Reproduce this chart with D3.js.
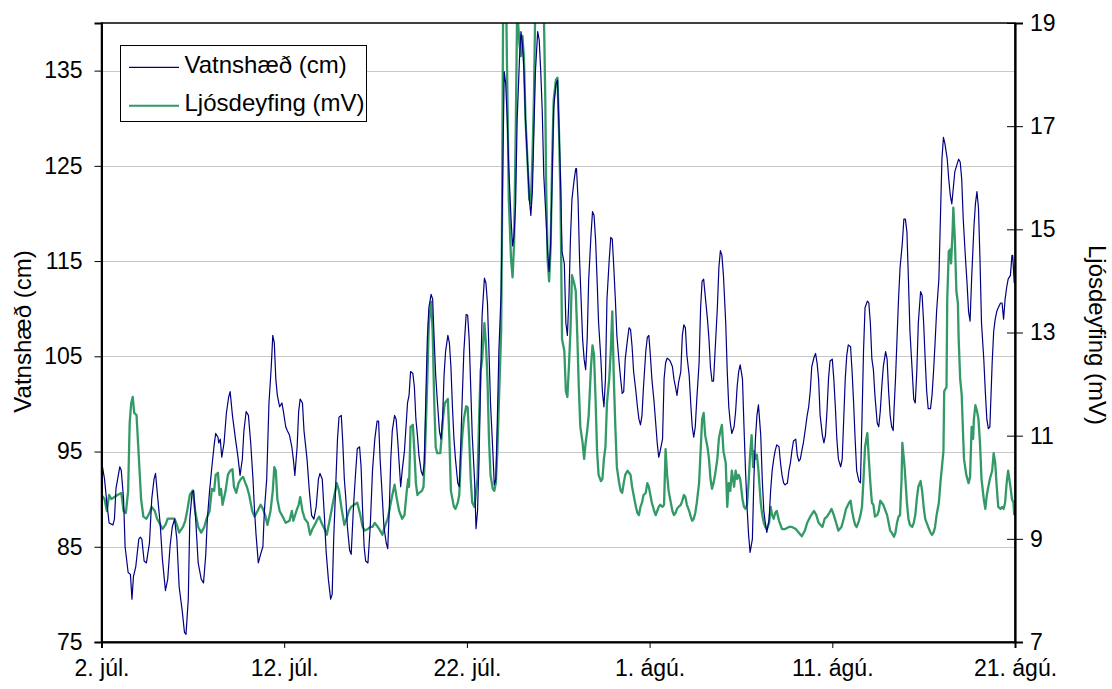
<!DOCTYPE html>
<html>
<head>
<meta charset="utf-8">
<script src="https://cdn.jsdelivr.net/npm/d3@7"></script>
<style>
  html, body { margin: 0; padding: 0; background: #fff; }
  svg text { font-family: Arial, "Liberation Sans", sans-serif; fill: #000; }
</style>
</head>
<body>
<svg id="chart" width="1112" height="689"></svg>
<script>
// Time axis: hours since 2 July 00:00; ticks every 10 days
const dayTicks = [0, 10, 20, 30, 40, 50];
const dayLabels = ["2. júl.", "12. júl.", "22. júl.", "1. ágú.", "11. ágú.", "21. ágú."];
const levelTicks = [75, 85, 95, 105, 115, 125, 135];
const turbTicks = [7, 9, 11, 13, 15, 17, 19];

// Vatnshæð (cm): [hour, value]
const waterLevel = [
  [0,94.0],[4,92.1],[7,89.6],[10,87.5],[15,87.3],[17,87.9],[19,91.1],[24,93.4],[26,93.0],[29,90.0],
  [31,85.0],[35,82.3],[38,82.1],[40,79.5],[42,81.9],[45,82.9],[49,85.8],[51,86.0],[53,85.8],[56,83.5],
  [59,83.3],[63,85.4],[66,90.0],[69,92.1],[71,92.7],[74,90.0],[77,87.5],[80,83.7],[84,80.4],[87,81.6],
  [90,85.0],[93,87.1],[96,87.9],[99,85.8],[102,80.8],[106,78.3],[109,76.0],[111,75.8],[114,79.5],[116,87.9],
  [119,90.7],[121,90.9],[124,87.5],[127,83.3],[131,81.6],[134,81.2],[137,84.2],[139,87.9],[142,90.9],[145,93.4],
  [148,95.7],[150,96.9],[153,96.5],[154,95.9],[156,96.3],[158,94.4],[161,95.9],[164,99.0],[167,100.7],[169,101.3],
  [172,98.8],[176,96.3],[179,94.6],[182,92.5],[185,94.2],[187,97.1],[190,99.2],[193,98.8],[196,95.9],[199,92.1],
  [201,88.8],[203,86.3],[206,83.3],[209,84.2],[212,85.0],[214,88.8],[217,92.1],[220,100.1],[223,103.9],[225,107.2],
  [227,106.4],[229,102.6],[231,100.9],[234,99.7],[237,100.1],[239,99.2],[242,97.6],[244,97.2],[247,96.7],[250,95.5],
  [252,94.2],[254,92.5],[257,95.5],[259,99.2],[261,100.5],[264,100.1],[266,97.2],[270,94.2],[273,90.9],[276,88.3],
  [279,87.9],[282,89.2],[285,92.1],[287,92.7],[290,92.1],[293,87.9],[295,84.6],[298,81.6],[301,79.5],[303,80.0],
  [305,85.8],[308,92.1],[310,96.3],[312,98.6],[315,98.8],[317,95.9],[319,92.1],[321,90.0],[323,87.1],[326,84.6],
  [328,84.2],[331,89.2],[334,93.0],[336,95.3],[339,95.5],[341,93.4],[343,88.8],[345,85.0],[347,83.5],[350,83.3],
  [353,87.1],[356,93.0],[359,96.3],[362,98.2],[364,98.2],[366,94.2],[369,90.0],[371,87.1],[374,85.4],[376,84.8],
  [378,88.8],[380,94.2],[382,97.2],[385,98.8],[387,98.4],[389,96.3],[391,93.8],[393,91.3],[395,93.0],[398,95.1],
  [400,97.6],[402,100.1],[404,100.9],[406,103.4],[409,103.2],[411,101.8],[413,98.4],[415,96.7],[417,94.6],[420,92.9],
  [422,92.5],[424,93.8],[426,100.5],[428,106.8],[430,110.1],[433,111.5],[435,111.0],[437,106.8],[439,103.0],[441,100.5],
  [444,97.1],[446,96.3],[448,98.4],[450,103.0],[452,105.5],[455,107.2],[457,106.4],[459,103.9],[461,99.7],[463,96.3],
  [465,94.2],[468,91.7],[470,91.3],[472,95.9],[474,100.9],[476,105.5],[479,109.4],[481,109.3],[483,106.8],[485,101.8],
  [487,96.7],[490,92.1],[492,86.9],[494,88.8],[496,94.2],[498,102.6],[500,109.3],[503,113.2],[505,112.7],[507,110.6],
  [509,105.5],[511,100.1],[514,95.1],[516,91.5],[518,92.1],[520,98.4],[522,105.5],[525,111.8],[527,123.6],[529,134.9],
  [531,133.6],[533,129.8],[535,124.8],[538,119.4],[540,116.6],[542,117.7],[544,121.0],[546,129.8],[549,136.1],[551,139.1],
  [553,137.8],[555,134.9],[557,129.8],[560,124.8],[562,121.5],[564,119.8],[566,122.3],[568,128.6],[570,134.9],[573,139.1],
  [575,138.2],[577,134.9],[579,130.7],[581,124.0],[584,119.4],[586,116.0],[588,113.9],[590,116.9],[592,123.6],[594,131.1],
  [597,133.6],[599,134.0],[601,129.0],[603,123.6],[605,116.0],[608,114.7],[610,108.5],[612,107.2],[614,111.0],[616,117.3],
  [618,121.5],[621,123.6],[623,124.7],[624,124.7],[626,121.5],[628,115.2],[630,111.0],[632,106.8],[634,104.7],[636,103.6],
  [638,106.8],[640,113.1],[643,117.7],[645,120.2],[647,119.8],[649,117.3],[651,113.1],[653,108.5],[656,104.7],[658,101.3],
  [660,99.7],[662,102.6],[664,111.0],[667,115.2],[669,117.5],[671,117.3],[673,114.3],[675,111.0],[677,107.2],[680,104.3],
  [682,102.6],[684,101.1],[686,101.3],[688,104.7],[691,106.8],[693,108.0],[695,107.8],[697,106.0],[699,103.4],[702,101.3],
  [704,99.7],[706,98.4],[708,97.8],[710,98.8],[712,101.8],[715,105.5],[717,107.0],[719,107.2],[721,105.1],[723,102.6],
  [726,100.1],[728,98.0],[730,95.9],[732,94.4],[734,95.1],[737,96.3],[739,102.6],[741,104.3],[743,104.8],[745,104.7],
  [747,104.5],[750,103.9],[752,102.6],[754,101.8],[756,100.9],[758,102.2],[761,103.4],[763,107.2],[765,108.3],[767,108.0],
  [769,105.1],[772,103.0],[774,100.1],[776,97.6],[778,96.5],[780,97.6],[782,100.5],[785,104.3],[787,110.1],[789,112.9],
  [791,113.1],[793,111.4],[796,108.9],[798,106.8],[800,103.8],[802,102.4],[804,102.4],[806,105.5],[809,110.1],[811,114.3],
  [813,116.1],[815,115.6],[817,113.5],[820,108.5],[822,103.4],[824,99.7],[826,98.0],[828,96.9],[831,97.6],[833,99.2],
  [835,101.8],[837,103.4],[839,104.1],[842,102.6],[844,97.6],[846,93.0],[848,89.2],[850,86.3],[852,84.4],[855,85.8],
  [857,92.1],[859,96.3],[861,98.8],[863,99.9],[866,96.7],[868,92.1],[870,88.8],[872,87.5],[874,86.5],[877,87.9],
  [879,90.9],[881,93.0],[883,94.2],[885,95.1],[887,95.7],[890,95.5],[892,93.8],[894,92.5],[896,91.7],[898,91.5],
  [901,91.7],[903,93.0],[905,93.8],[907,95.1],[909,96.1],[912,96.3],[914,94.6],[916,94.0],[918,94.2],[920,95.1],
  [922,95.9],[925,97.6],[927,98.8],[929,99.7],[931,101.3],[933,103.9],[936,104.9],[938,105.3],[940,104.3],[942,102.6],
  [944,98.8],[947,96.7],[949,95.9],[951,96.7],[953,99.2],[955,102.6],[957,104.5],[960,104.7],[962,102.6],[964,99.7],
  [966,96.3],[968,94.2],[971,93.4],[973,94.2],[975,98.4],[977,102.6],[979,105.1],[981,106.2],[984,106.0],[986,103.4],
  [988,100.1],[990,96.3],[992,93.0],[995,91.9],[997,91.7],[999,98.4],[1001,105.5],[1003,110.1],[1006,110.8],[1008,110.6],
  [1010,108.5],[1012,104.7],[1014,103.6],[1016,100.9],[1019,98.0],[1021,97.6],[1023,99.2],[1025,101.8],[1027,103.9],[1030,105.5],
  [1032,104.7],[1034,101.3],[1036,98.8],[1038,97.6],[1040,97.2],[1041,99.2],[1043,102.6],[1045,106.8],[1047,111.0],[1049,114.3],
  [1052,116.9],[1054,119.4],[1056,119.4],[1058,118.1],[1060,113.1],[1062,107.6],[1065,103.4],[1067,100.5],[1069,100.1],[1071,103.4],
  [1073,108.5],[1076,111.8],[1078,111.4],[1080,108.5],[1082,104.7],[1084,101.3],[1086,99.5],[1089,99.5],[1091,100.9],[1093,103.4],
  [1095,106.4],[1097,109.7],[1100,113.1],[1102,119.4],[1104,125.7],[1106,128.0],[1108,127.3],[1111,125.7],[1113,123.6],[1115,121.9],
  [1117,121.0],[1119,122.7],[1121,124.4],[1124,125.2],[1126,125.7],[1128,125.4],[1130,123.6],[1132,119.4],[1135,115.2],[1137,112.7],
  [1139,109.7],[1141,108.7],[1143,113.1],[1146,118.5],[1148,121.0],[1150,122.3],[1152,120.6],[1154,115.2],[1156,108.5],[1159,104.7],
  [1161,101.3],[1163,98.4],[1165,97.4],[1167,97.6],[1170,104.3],[1172,107.6],[1174,108.9],[1176,109.7],[1178,110.1],[1181,110.6],
  [1183,110.6],[1185,108.9],[1187,111.0],[1189,112.2],[1191,113.1],[1194,113.5],[1196,115.6],[1197,115.6],[1199,112.7]
];

// Ljósdeyfing (mV): [hour, value]
const turbidity = [
  [0,9.85],[4,9.77],[7,9.54],[10,9.85],[13,9.77],[17,9.81],[21,9.85],[26,9.89],[29,9.54],[32,9.50],
  [35,9.93],[37,11.24],[39,11.63],[41,11.75],[43,11.44],[46,11.40],[48,10.86],[50,10.32],[52,9.77],[55,9.43],
  [59,9.39],[63,9.50],[66,9.62],[70,9.54],[73,9.39],[76,9.31],[80,9.19],[84,9.27],[87,9.39],[92,9.39],
  [96,9.39],[99,9.27],[102,9.12],[107,9.23],[110,9.35],[113,9.58],[116,9.85],[120,9.94],[123,9.54],[127,9.23],
  [131,9.12],[135,9.23],[138,9.39],[142,9.54],[145,9.97],[148,9.93],[150,10.24],[153,10.28],[155,9.85],[157,9.97],
  [159,9.66],[163,9.93],[166,10.24],[169,10.32],[172,10.35],[174,10.01],[177,9.89],[180,10.08],[183,10.16],[186,10.20],
  [189,10.08],[191,10.01],[194,9.85],[198,9.54],[201,9.43],[205,9.54],[209,9.66],[212,9.58],[215,9.46],[218,9.27],
  [222,9.54],[225,9.93],[227,10.39],[229,10.32],[231,9.77],[234,9.54],[238,9.43],[242,9.31],[247,9.35],[250,9.54],
  [252,9.35],[256,9.54],[259,9.66],[261,9.81],[264,9.54],[267,9.39],[271,9.31],[274,9.08],[277,9.19],[280,9.27],
  [284,9.39],[286,9.43],[289,9.31],[293,9.19],[296,9.08],[299,9.31],[302,9.54],[306,9.85],[309,10.08],[312,9.93],
  [315,9.62],[319,9.27],[322,9.39],[325,9.54],[328,9.62],[332,9.66],[336,9.70],[340,9.46],[343,9.23],[346,9.16],
  [350,9.19],[353,9.23],[356,9.23],[359,9.31],[363,9.23],[366,9.16],[369,9.08],[372,9.23],[376,9.39],[379,9.62],
  [382,9.85],[385,10.05],[388,9.77],[391,9.54],[395,9.39],[398,9.46],[401,9.93],[403,10.16],[404,10.01],[406,11.17],
  [409,11.21],[411,10.70],[413,10.08],[415,9.85],[417,9.89],[421,9.93],[423,10.01],[425,10.70],[428,12.10],[430,13.18],
  [433,13.60],[435,13.02],[437,11.71],[439,10.78],[441,10.66],[445,10.66],[447,11.01],[449,11.40],[451,11.63],[455,11.71],
  [457,10.94],[459,9.93],[461,9.77],[463,9.62],[465,9.58],[468,9.70],[470,9.85],[472,10.55],[474,11.01],[476,11.32],
  [479,11.57],[481,11.55],[483,10.94],[485,10.16],[487,9.70],[490,9.62],[492,9.93],[494,10.16],[496,11.32],[498,12.25],
  [500,12.48],[503,13.18],[505,12.79],[507,12.10],[509,10.94],[511,10.24],[514,9.97],[516,9.93],[518,10.08],[520,10.70],
  [522,11.63],[525,13.02],[526,14.80],[528,20.5],[530,21.0],[531,20.0],[534,16.74],[535,15.58],[538,14.42],[540,14.07],
  [542,14.73],[544,16.74],[546,19.3],[549,18.60],[551,18.36],[553,18.75],[555,18.29],[557,17.13],[560,16.20],[562,15.58],
  [564,15.50],[566,16.35],[568,17.51],[570,19.5],[573,20.8],[576,21.2],[579,20.6],[581,19.3],[583,17.51],[584,15.96],
  [586,14.42],[588,13.99],[590,14.65],[592,16.35],[594,17.51],[597,17.90],[599,17.94],[601,16.89],[603,15.58],[605,12.87],
  [608,12.64],[610,11.86],[612,11.75],[614,12.33],[616,13.02],[618,14.11],[621,13.95],[623,13.80],[625,12.95],[627,11.94],
  [629,11.17],[632,10.86],[634,10.55],[636,10.86],[638,11.09],[640,11.40],[643,12.33],[645,12.75],[647,12.56],[649,11.71],
  [651,10.70],[653,10.24],[656,10.12],[658,10.16],[660,10.55],[662,10.78],[664,11.63],[667,12.10],[669,12.64],[671,13.41],
  [673,12.10],[675,11.17],[677,10.39],[680,10.08],[682,9.93],[684,9.89],[686,10.08],[688,10.24],[691,10.32],[693,10.28],
  [695,10.24],[697,10.01],[699,9.85],[702,9.62],[704,9.50],[706,9.46],[708,9.62],[710,9.70],[712,9.85],[715,9.89],
  [717,10.08],[719,10.01],[721,9.85],[723,9.70],[726,9.54],[728,9.46],[730,9.54],[732,9.62],[734,9.66],[737,9.62],
  [739,9.66],[741,10.74],[743,10.24],[745,9.93],[747,9.77],[750,9.54],[752,9.46],[754,9.50],[756,9.58],[758,9.62],
  [761,9.66],[763,9.74],[765,9.85],[767,9.81],[769,9.66],[772,9.54],[774,9.43],[776,9.35],[778,9.39],[780,9.50],
  [782,9.70],[785,10.08],[787,10.70],[789,11.32],[791,11.44],[793,11.01],[796,10.78],[798,10.55],[800,10.16],[802,9.97],
  [804,10.08],[806,10.24],[809,10.55],[811,10.94],[813,11.09],[815,11.21],[817,10.70],[820,10.47],[822,9.62],[824,10.08],
  [826,9.93],[828,10.32],[831,10.01],[833,10.32],[835,10.16],[837,10.24],[839,10.16],[842,9.77],[844,9.62],[846,9.58],
  [848,9.66],[850,10.08],[852,10.63],[854,11.01],[856,10.39],[857,10.70],[859,10.55],[861,10.63],[863,10.32],[866,9.70],
  [868,9.46],[870,9.31],[872,9.23],[874,9.19],[877,9.31],[879,9.62],[881,9.46],[883,9.39],[885,9.50],[887,9.54],
  [890,9.35],[892,9.27],[894,9.19],[898,9.19],[903,9.23],[907,9.23],[912,9.19],[916,9.12],[920,9.05],[924,9.16],
  [927,9.31],[931,9.43],[936,9.54],[939,9.46],[942,9.31],[947,9.23],[950,9.39],[953,9.43],[956,9.50],[959,9.58],
  [962,9.46],[965,9.31],[968,9.16],[972,9.23],[975,9.39],[978,9.58],[982,9.70],[984,9.74],[986,9.54],[988,9.39],
  [990,9.27],[992,9.23],[995,9.35],[997,9.46],[999,9.62],[1001,10.16],[1003,10.78],[1006,11.05],[1008,10.55],[1010,10.08],
  [1012,9.70],[1014,9.66],[1016,9.43],[1019,9.46],[1021,9.54],[1023,9.74],[1025,9.70],[1027,9.66],[1030,9.54],[1032,9.46],
  [1034,9.31],[1036,9.16],[1038,9.12],[1041,9.04],[1043,9.12],[1045,9.31],[1047,9.43],[1049,9.46],[1051,10.16],[1052,10.86],
  [1054,10.55],[1055,10.39],[1056,10.16],[1058,9.70],[1060,9.39],[1062,9.27],[1065,9.23],[1067,9.31],[1069,9.46],[1071,9.77],
  [1073,10.01],[1076,10.12],[1078,9.93],[1080,9.62],[1082,9.39],[1084,9.31],[1086,9.23],[1089,9.12],[1091,9.08],[1093,9.12],
  [1095,9.23],[1097,9.46],[1100,9.70],[1102,10.08],[1104,10.39],[1106,10.70],[1107,11.86],[1110,11.94],[1111,13.64],[1113,14.57],
  [1115,14.61],[1116,14.34],[1118,14.96],[1119,15.42],[1121,14.80],[1123,13.80],[1125,13.57],[1126,12.87],[1128,12.10],[1130,11.79],
  [1132,10.94],[1133,10.55],[1136,10.24],[1139,10.08],[1141,10.20],[1143,11.17],[1145,10.94],[1146,11.32],[1148,11.59],[1150,11.48],
  [1152,11.32],[1154,10.86],[1156,10.16],[1159,9.77],[1161,9.58],[1163,9.85],[1165,10.01],[1167,10.16],[1170,10.32],[1172,10.66],
  [1174,10.47],[1176,10.01],[1178,9.62],[1181,9.58],[1183,9.62],[1185,9.58],[1187,9.70],[1189,10.08],[1191,10.32],[1194,10.01],
  [1196,9.77],[1198,9.70],[1199,9.46]
];

const legendItems = [
  { label: "Vatnshæð (cm)", color: "#000080", width: 1.2 },
  { label: "Ljósdeyfing (mV)", color: "#339966", width: 2.3 }
];

const svg = d3.select("#chart");
const plotLeft = 101.5, plotRight = 1015, plotTop = 23, plotBottom = 642;
const tickFont = 23, titleFont = 24;

const x = d3.scaleLinear().domain([0, 1200]).range([plotLeft, plotRight]);
const yL = d3.scaleLinear().domain([75, 140]).range([plotBottom, plotTop]);
const yR = d3.scaleLinear().domain([7, 19]).range([plotBottom, plotTop]);

svg.append("defs").append("clipPath").attr("id", "plotClip")
  .append("rect").attr("x", plotLeft).attr("y", plotTop)
  .attr("width", plotRight - plotLeft).attr("height", plotBottom - plotTop);

// horizontal gridlines
svg.append("g").selectAll("line").data(levelTicks.filter(t => t > 75)).join("line")
  .attr("x1", plotLeft).attr("x2", plotRight)
  .attr("y1", d => Math.round(yL(d)) + 0.5).attr("y2", d => Math.round(yL(d)) + 0.5)
  .attr("stroke", "#c8c8c8").attr("stroke-width", 1);

// series
const plot = svg.append("g").attr("clip-path", "url(#plotClip)");
plot.append("path").datum(turbidity)
  .attr("fill", "none").attr("stroke", legendItems[1].color).attr("stroke-width", legendItems[1].width)
  .attr("stroke-linejoin", "round")
  .attr("d", d3.line().x(d => x(d[0])).y(d => yR(d[1])));
plot.append("path").datum(waterLevel)
  .attr("fill", "none").attr("stroke", legendItems[0].color).attr("stroke-width", legendItems[0].width)
  .attr("stroke-linejoin", "round")
  .attr("d", d3.line().x(d => x(d[0])).y(d => yL(d[1])));

// plot frame
svg.append("rect").attr("x", plotLeft).attr("y", plotTop)
  .attr("width", plotRight - plotLeft).attr("height", plotBottom - plotTop)
  .attr("fill", "none").attr("stroke", "#000").attr("stroke-width", 1.5);

// left axis
const axL = svg.append("g").attr("transform", `translate(${plotLeft},0)`)
  .call(d3.axisLeft(yL).tickValues(levelTicks).tickSize(7).tickPadding(12).tickFormat(d3.format("d")));
axL.select(".domain").attr("stroke", "#000").attr("stroke-width", 2);

// right axis (ticks cross the axis line)
const axR = svg.append("g").attr("transform", `translate(${plotRight},0)`)
  .call(d3.axisRight(yR).tickValues(turbTicks).tickSize(8).tickPadding(7).tickFormat(d3.format("d")));
axR.selectAll(".tick line").attr("x1", -8).attr("x2", 8);
axR.select(".domain").attr("stroke", "#000").attr("stroke-width", 2.2);

// bottom axis
const axB = svg.append("g").attr("transform", `translate(0,${plotBottom})`)
  .call(d3.axisBottom(x).tickValues(dayTicks.map(d => d * 24)).tickSize(6).tickPadding(12)
    .tickFormat((d, i) => dayLabels[i]));
axB.select(".domain").attr("stroke", "#000").attr("stroke-width", 2);

svg.selectAll(".tick text").attr("font-size", tickFont)
  .attr("font-family", 'Arial, "Liberation Sans", sans-serif').attr("fill", "#000");
svg.selectAll(".tick line").attr("stroke", "#000");

// axis titles
svg.append("text").attr("transform", `translate(31,331.5) rotate(-90)`)
  .attr("text-anchor", "middle").attr("font-size", titleFont)
  .text("Vatnshæð (cm)");
svg.append("text").attr("transform", `translate(1088.5,335) rotate(90)`)
  .attr("text-anchor", "middle").attr("font-size", titleFont)
  .text("Ljósdeyfing (mV)");

// legend
const lg = svg.append("g").attr("transform", "translate(120,45)");
lg.append("rect").attr("x", 0.5).attr("y", 0.5).attr("width", 246).attr("height", 76)
  .attr("fill", "#fff").attr("stroke", "#000").attr("stroke-width", 1);
const rows = lg.selectAll("g.row").data(legendItems).join("g").attr("class", "row")
  .attr("transform", (d, i) => `translate(0,${22.3 + i * 38.4})`);
rows.append("line").attr("x1", 9).attr("x2", 59).attr("y1", 0).attr("y2", 0)
  .attr("stroke", d => d.color).attr("stroke-width", d => Math.min(d.width, 2));
rows.append("text").attr("x", 64.5).attr("y", 5.7).attr("font-size", titleFont)
  .text(d => d.label);
</script>
</body>
</html>
